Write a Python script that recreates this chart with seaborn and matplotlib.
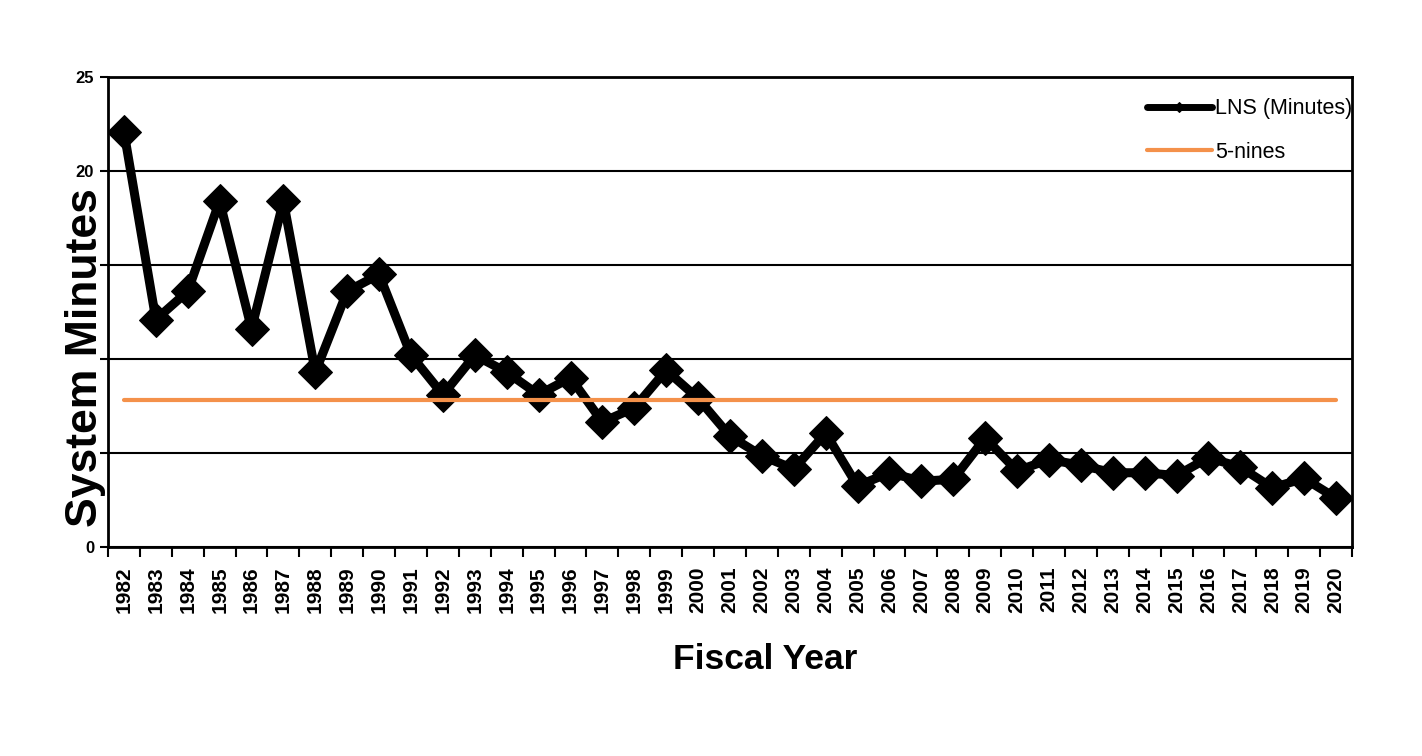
import numpy as np
import pandas as pd
import matplotlib
matplotlib.use("Agg")
import matplotlib.pyplot as plt
import seaborn as sns

# Data
years = list(range(1982, 2021))
lns_minutes = [22.1, 12.1, 13.6, 18.4, 11.6, 18.4, 9.3, 13.6, 14.5, 10.2,
               8.1, 10.2, 9.3, 8.1, 9.0, 6.65, 7.4, 9.4, 7.9, 5.9,
               4.85, 4.15, 6.05, 3.25, 3.95, 3.5, 3.6, 5.8, 4.05, 4.65,
               4.35, 3.95, 3.95, 3.8, 4.75, 4.25, 3.15, 3.65, 2.6]
five_nines = 7.8
y_ticks = [0, 5, 10, 15, 20, 25]
# 5, 10 and 15 are hidden behind the axis title in the original
y_tick_labels = ["0", "", "", "", "20", "25"]

df = pd.DataFrame({"idx": np.arange(len(years)), "year": years, "lns": lns_minutes})
df["nines"] = five_nines

sns.set_style("white")
plt.rcParams['font.family'] = ['Liberation Sans', 'DejaVu Sans']
plt.rcParams['text.color'] = 'black'
plt.rcParams['axes.labelcolor'] = 'black'
plt.rcParams['xtick.color'] = 'black'
plt.rcParams['ytick.color'] = 'black'

fig = plt.figure(figsize=(14.22, 7.56), dpi=100)
ax = fig.add_axes([108 / 1422, 1 - 547 / 756, (1352 - 108) / 1422, (547 - 77) / 756])

sns.lineplot(data=df, x="idx", y="lns", ax=ax, color="black", linewidth=6.5,
             marker="D", markersize=17, markeredgecolor="black", label="LNS (Minutes)")
sns.lineplot(data=df, x="idx", y="nines", ax=ax, color="#F4914A", linewidth=3,
             label="5-nines")

ax.set_xlim(-0.5, len(years) - 0.5)
ax.set_ylim(0, 25)
ax.set_yticks(y_ticks)
ax.set_yticklabels(y_tick_labels, fontsize=12, fontweight="bold")
ax.yaxis.grid(True, color="black", linewidth=1.5)
ax.set_axisbelow(True)

ax.set_xticks(df["idx"])
ax.set_xticklabels([str(y) for y in years], rotation=90, fontsize=15, fontweight="bold")
ax.set_xticks(np.arange(len(years) + 1) - 0.5, minor=True)
ax.tick_params(axis="x", which="major", length=0, pad=14)
ax.tick_params(axis="x", which="minor", length=7, width=1.5, color="black", bottom=True)
ax.tick_params(axis="y", length=6, width=1.5, color="black", left=True, pad=4)

for s in ax.spines.values():
    s.set_color("black")
    s.set_linewidth(2)

ax.set_xlabel("Fiscal Year", fontsize=25.5, fontweight="bold")
ax.xaxis.set_label_coords(0.528, -0.205)
ax.set_ylabel("System Minutes", fontsize=32, fontweight="bold")
ax.yaxis.set_label_coords(-0.002, 0.404)

leg = ax.legend(loc="upper right", bbox_to_anchor=(1.0, 0.955), frameon=False,
                fontsize=15.5, handlelength=3.0, labelspacing=1.05, handletextpad=0.15,
                borderaxespad=0, borderpad=0)
leg.legend_handles[0].set_markersize(5)
leg.legend_handles[0].set_linewidth(5)

plt.savefig("out.png", dpi=100)
